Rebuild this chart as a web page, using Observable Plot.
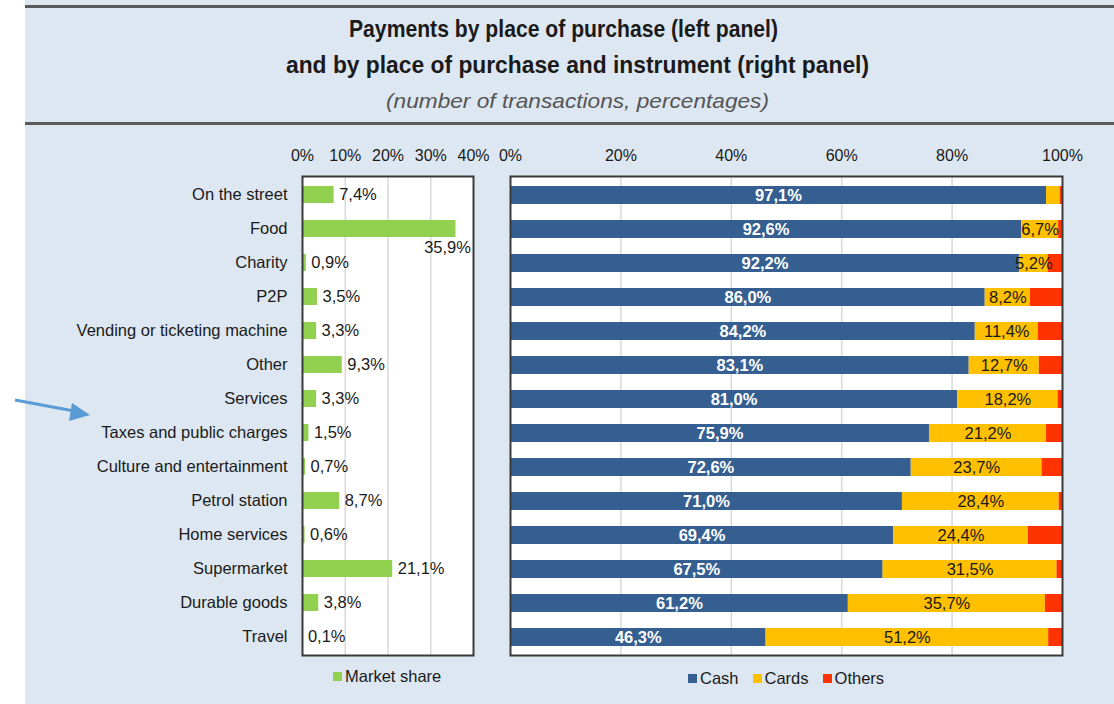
<!DOCTYPE html>
<html>
<head>
<meta charset="utf-8">
<script src="https://cdn.jsdelivr.net/npm/d3@7"></script>
<script src="https://cdn.jsdelivr.net/npm/@observablehq/plot@0.6"></script>
<style>
  html, body { margin: 0; padding: 0; background: #ffffff; }
  body { width: 1114px; height: 704px; position: relative; overflow: hidden; font-family: "Liberation Sans", Arial, sans-serif; color: #1a1a1a; }
  #panel { position: absolute; left: 25px; top: 0; width: 1089px; height: 704px; background: #dde7f1; }
  .rule { position: absolute; left: 25px; width: 1089px; height: 3px; background: #5a5a5a; }
  .title { position: absolute; white-space: nowrap; font-family: "Liberation Sans", Arial, sans-serif; color: #1a1a1a; transform-origin: 0 50%; }
  #t1 { top: 15px; font-size: 24px; font-weight: 700; }
  #t2 { top: 51px; font-size: 24px; font-weight: 700; }
  #t3 { top: 89px; font-size: 21px; font-style: italic; color: #555; }
  #left { position: absolute; left: 0; top: 130px; }
  #right { position: absolute; left: 490px; top: 130px; }
  .leg { position: absolute; font-size: 16.5px; display: flex; align-items: center; white-space: nowrap; }
  .sw { display: inline-block; width: 9px; height: 9px; margin-right: 3px; }
  .leg span.item { display: inline-flex; align-items: center; margin-right: 14px; }
  #arrow { position: absolute; left: 0; top: 380px; }
</style>
</head>
<body>
<div id="panel"></div>
<div class="rule" style="top:5px"></div>
<div class="rule" style="top:122px"></div>
<div class="title" id="t1">Payments by place of purchase (left panel)</div>
<div class="title" id="t2">and by place of purchase and instrument (right panel)</div>
<div class="title" id="t3">(number of transactions, percentages)</div>
<div id="left"></div>
<div id="right"></div>
<div class="leg" id="legL" style="left:333px; top:667px;"></div>
<div class="leg" id="legR" style="left:688px; top:669px;"></div>
<svg id="arrow" width="100" height="50">
  <line x1="15" y1="20" x2="74" y2="31" stroke="#5b9bd5" stroke-width="3"/>
  <polygon points="90,35 72,23 69,41" fill="#5b9bd5"/>
</svg>
<script>
const categories = ["On the street", "Food", "Charity", "P2P", "Vending or ticketing machine", "Other", "Services", "Taxes and public charges", "Culture and entertainment", "Petrol station", "Home services", "Supermarket", "Durable goods", "Travel"];
const marketShare = [7.4, 35.9, 0.9, 3.5, 3.3, 9.3, 3.3, 1.5, 0.7, 8.7, 0.6, 21.1, 3.8, 0.1];
const cash   = [97.1, 92.6, 92.2, 86.0, 84.2, 83.1, 81.0, 75.9, 72.6, 71.0, 69.4, 67.5, 61.2, 46.3];
const cards  = [2.5, 6.7, 5.2, 8.2, 11.4, 12.7, 18.2, 21.2, 23.7, 28.4, 24.4, 31.5, 35.7, 51.2];
const others = [0.4, 0.7, 2.6, 5.8, 4.4, 4.2, 0.8, 2.9, 3.7, 0.6, 6.2, 1.0, 3.1, 2.5];
const instruments = ["Cash", "Cards", "Others"];
const instrumentColors = ["#365f91", "#ffc000", "#ff3300"];
const leftTicks = [0, 10, 20, 30, 40];
const rightTicks = [0, 20, 40, 60, 80, 100];
const shareLabel = "Market share";
const shareColor = "#92d050";

const fmt = v => v.toFixed(1).replace(".", ",") + "%";

const shareData = categories.map((c, i) => ({cat: c, share: marketShare[i]}));
const stackData = [];
categories.forEach((c, i) => {
  [cash[i], cards[i], others[i]].forEach((v, k) => stackData.push({cat: c, instrument: instruments[k], value: v}));
});
const rowData = categories.map((c, i) => ({cat: c, cash: cash[i], cards: cards[i]}));

const baseStyle = {background: "transparent", fontFamily: "'Liberation Sans', Arial, sans-serif", fontSize: "16px", color: "#1a1a1a", overflow: "visible"};

const left = Plot.plot({
  width: 490, height: 530,
  marginLeft: 302, marginRight: 17, marginTop: 46, marginBottom: 5,
  style: baseStyle,
  x: {domain: [0, 40], ticks: leftTicks, tickFormat: d => d + "%", axis: "top", tickSize: 0, tickPadding: 16, label: null},
  y: {domain: categories, paddingInner: 0.5, paddingOuter: 0.25, tickSize: 0, tickPadding: 15, label: null},
  marks: [
    Plot.frame({fill: "white"}),
    Plot.gridX(leftTicks.slice(1, -1), {stroke: "#d9d9d9", strokeOpacity: 1, strokeWidth: 1.5}),
    Plot.barX(shareData, {x: "share", y: "cat", fill: shareColor}),
    Plot.axisY({tickSize: 0, tickPadding: 15, fontSize: 16.5}),
    Plot.text(shareData.filter(d => d.share < 30), {x: "share", y: "cat", text: d => fmt(d.share), textAnchor: "start", dx: 5, fill: "#1a1a1a", fontSize: 16.5}),
    Plot.text(shareData.filter(d => d.share >= 30), {x: "share", y: "cat", text: d => fmt(d.share), textAnchor: "end", dx: 15, dy: 19, fill: "#1a1a1a", fontSize: 16.5}),
    Plot.frame({stroke: "#3a3a3a", strokeWidth: 2})
  ]
});
document.getElementById("left").appendChild(left);

const right = Plot.plot({
  width: 624, height: 530,
  marginLeft: 20, marginRight: 52, marginTop: 46, marginBottom: 5,
  style: baseStyle,
  x: {domain: [0, 100], ticks: rightTicks, tickFormat: d => d + "%", axis: "top", tickSize: 0, tickPadding: 16, label: null},
  y: {domain: categories, paddingInner: 0.48, paddingOuter: 0.24, axis: null},
  color: {domain: instruments, range: instrumentColors},
  marks: [
    Plot.frame({fill: "white"}),
    Plot.gridX(rightTicks.slice(1, -1), {stroke: "#d9d9d9", strokeOpacity: 1, strokeWidth: 1.5}),
    Plot.barX(stackData, Plot.stackX({x: "value", y: "cat", fill: "instrument", order: null})),
    Plot.text(rowData, {x: d => d.cash / 2, y: "cat", text: d => fmt(d.cash), fill: "white", fontSize: 16.5, fontWeight: "bold"}),
    Plot.text(rowData.filter(d => d.cards >= 5), {x: d => d.cash + d.cards / 2, y: "cat", text: d => fmt(d.cards), fill: "#1a1a1a", fontSize: 16.5}),
    Plot.frame({stroke: "#3a3a3a", strokeWidth: 2})
  ]
});
document.getElementById("right").appendChild(right);

document.getElementById("legL").innerHTML = `<span class="item"><span class="sw" style="background:${shareColor}"></span>${shareLabel}</span>`;
document.getElementById("legR").innerHTML = instruments.map((n, i) => `<span class="item"><span class="sw" style="background:${instrumentColors[i]}"></span>${n}</span>`).join("");

// fit title lines to the reference widths (condensed face)
[["t1", 429, 563], ["t2", 583, 577], ["t3", 383, 577]].forEach(([id, w, cx]) => {
  const el = document.getElementById(id);
  const nat = el.getBoundingClientRect().width;
  const s = w / nat;
  el.style.left = (cx - w / 2) + "px";
  el.style.transform = `scaleX(${s})`;
});
</script>
</body>
</html>
